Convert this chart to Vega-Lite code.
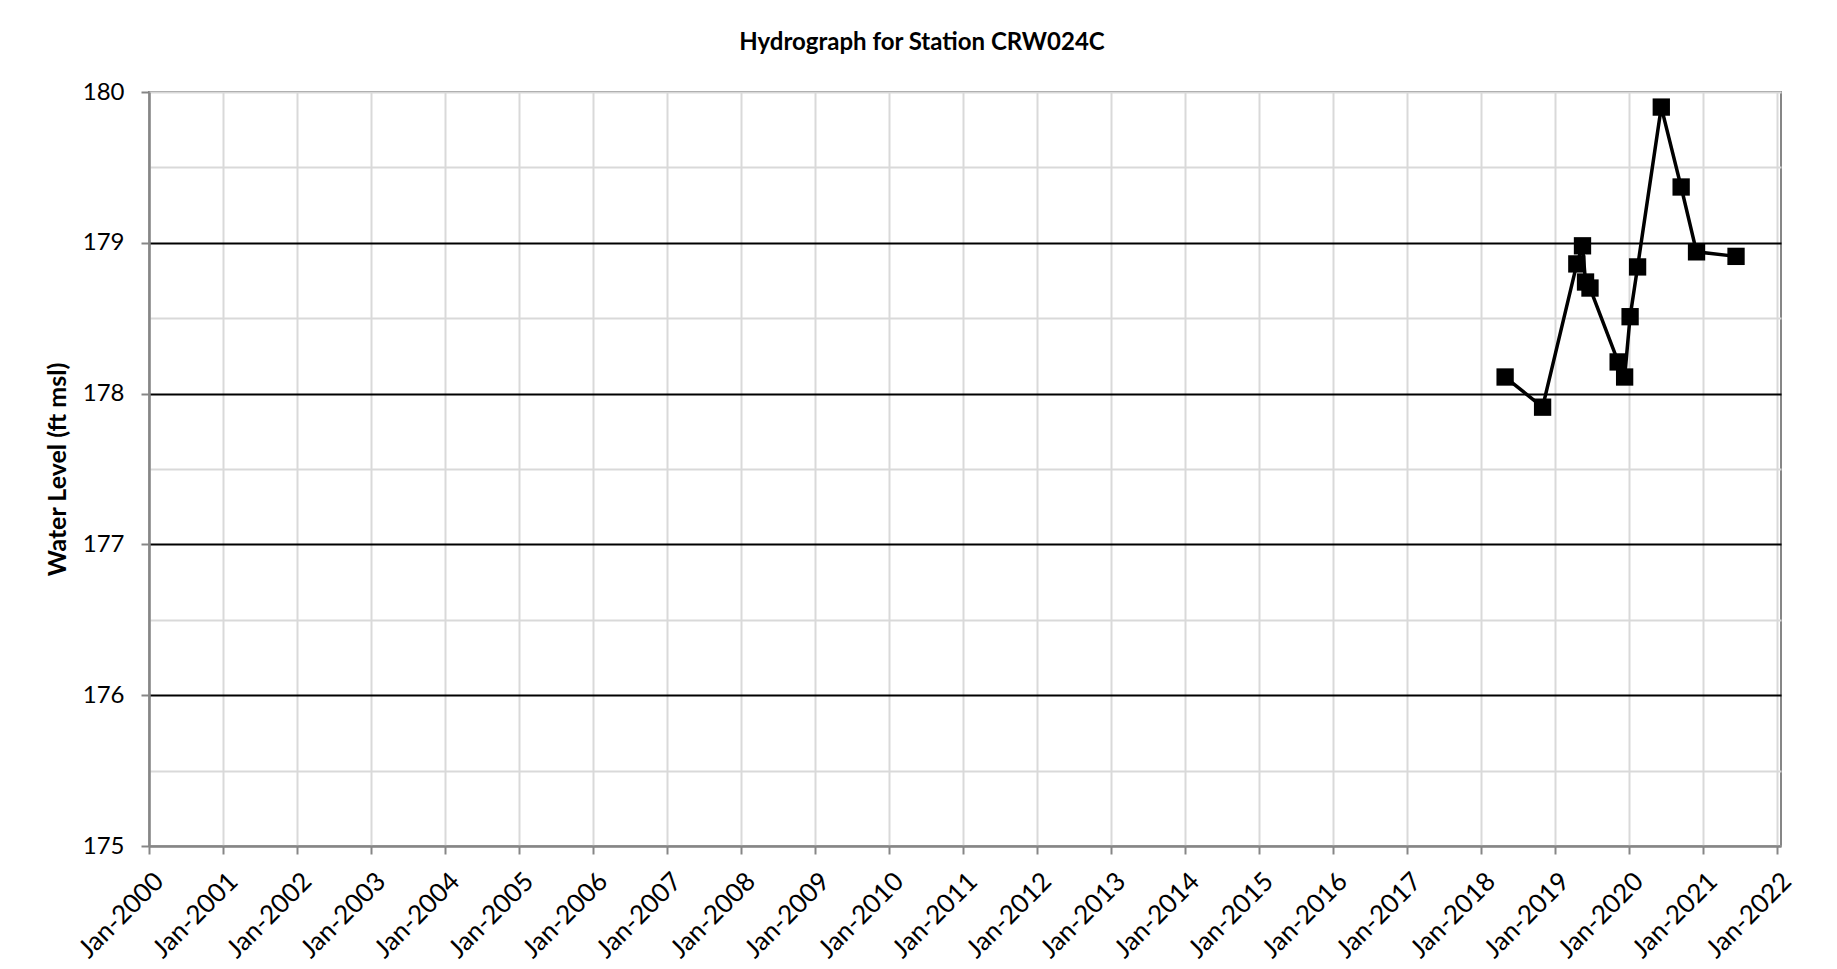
{
  "$schema": "https://vega.github.io/schema/vega-lite/v6.json",
  "autosize": {"type": "none"},
  "padding": {"left": 149, "top": 92, "right": 56, "bottom": 123},
  "width": 1632,
  "height": 754,
  "background": "white",
  "title": {
    "text": "Hydrograph for Station CRW024C",
    "font": "Lato",
    "fontSize": 24,
    "fontWeight": "bold",
    "color": "black",
    "frame": "group",
    "anchor": "middle",
    "baseline": "alphabetic",
    "offset": 6,
    "dx": -43
  },
  "config": {
    "view": {"stroke": "#868686", "strokeWidth": 2},
    "axis": {"labelFont": "Lato", "titleFont": "Lato", "labelColor": "black", "titleColor": "black"}
  },
  "data": {
    "values": [
      {"date": "2018-05-01", "level": 178.11},
      {"date": "2018-11-02", "level": 177.91},
      {"date": "2019-04-20", "level": 178.86},
      {"date": "2019-05-18", "level": 178.98},
      {"date": "2019-06-02", "level": 178.74},
      {"date": "2019-06-24", "level": 178.70},
      {"date": "2019-11-10", "level": 178.21},
      {"date": "2019-12-12", "level": 178.11},
      {"date": "2020-01-08", "level": 178.51},
      {"date": "2020-02-14", "level": 178.84},
      {"date": "2020-06-10", "level": 179.90},
      {"date": "2020-09-16", "level": 179.37},
      {"date": "2020-12-01", "level": 178.94},
      {"date": "2021-06-14", "level": 178.91}
    ]
  },
  "encoding": {
    "x": {
      "field": "date",
      "type": "temporal",
      "scale": {"type": "utc", "domain": [{"year": 2000, "month": 1, "date": 1, "utc": true}, {"year": 2022, "month": 1, "date": 22, "utc": true}]},
      "axis": {
        "title": null,
        "values": [
          {"year": 2000, "month": 1, "date": 1, "utc": true},
          {"year": 2001, "month": 1, "date": 1, "utc": true},
          {"year": 2002, "month": 1, "date": 1, "utc": true},
          {"year": 2003, "month": 1, "date": 1, "utc": true},
          {"year": 2004, "month": 1, "date": 1, "utc": true},
          {"year": 2005, "month": 1, "date": 1, "utc": true},
          {"year": 2006, "month": 1, "date": 1, "utc": true},
          {"year": 2007, "month": 1, "date": 1, "utc": true},
          {"year": 2008, "month": 1, "date": 1, "utc": true},
          {"year": 2009, "month": 1, "date": 1, "utc": true},
          {"year": 2010, "month": 1, "date": 1, "utc": true},
          {"year": 2011, "month": 1, "date": 1, "utc": true},
          {"year": 2012, "month": 1, "date": 1, "utc": true},
          {"year": 2013, "month": 1, "date": 1, "utc": true},
          {"year": 2014, "month": 1, "date": 1, "utc": true},
          {"year": 2015, "month": 1, "date": 1, "utc": true},
          {"year": 2016, "month": 1, "date": 1, "utc": true},
          {"year": 2017, "month": 1, "date": 1, "utc": true},
          {"year": 2018, "month": 1, "date": 1, "utc": true},
          {"year": 2019, "month": 1, "date": 1, "utc": true},
          {"year": 2020, "month": 1, "date": 1, "utc": true},
          {"year": 2021, "month": 1, "date": 1, "utc": true},
          {"year": 2022, "month": 1, "date": 1, "utc": true}
        ],
        "format": "%b-%Y",
        "labelAngle": -45,
        "labelAlign": "right",
        "labelBaseline": "middle",
        "labelFontSize": 26,
        "labelPadding": 23,
        "labelOffset": 10,
        "labelOverlap": false,
        "labelFlush": false,
        "grid": true,
        "gridColor": "#d9d9d9",
        "gridWidth": 2,
        "domainColor": "#868686",
        "domainWidth": 2.5,
        "tickColor": "#868686",
        "tickWidth": 2,
        "tickSize": 8
      }
    },
    "y": {
      "field": "level",
      "type": "quantitative",
      "scale": {"domain": [175, 180], "nice": false, "zero": false},
      "axis": {
        "title": "Water Level (ft msl)",
        "titleFontSize": 25,
        "titleFontWeight": "bold",
        "titlePadding": 12,
        "values": [175, 175.5, 176, 176.5, 177, 177.5, 178, 178.5, 179, 179.5, 180],
        "labelExpr": "datum.value % 1 === 0 ? format(datum.value, 'd') : ''",
        "labelFontSize": 24,
        "labelPadding": 17,
        "grid": true,
        "gridColor": {"condition": {"test": "datum.value % 1 === 0 && datum.value > 175 && datum.value < 180", "value": "black"}, "value": "#d9d9d9"},
        "gridWidth": 2,
        "domainColor": "#868686",
        "domainWidth": 2.5,
        "tickColor": "#868686",
        "tickWidth": 2,
        "tickSize": {"condition": {"test": "datum.value % 1 === 0", "value": 8}, "value": 0}
      }
    }
  },
  "mark": {
    "type": "line",
    "color": "black",
    "strokeWidth": 3.5,
    "point": {"shape": "square", "size": 300, "filled": true, "color": "black", "opacity": 1}
  }
}
